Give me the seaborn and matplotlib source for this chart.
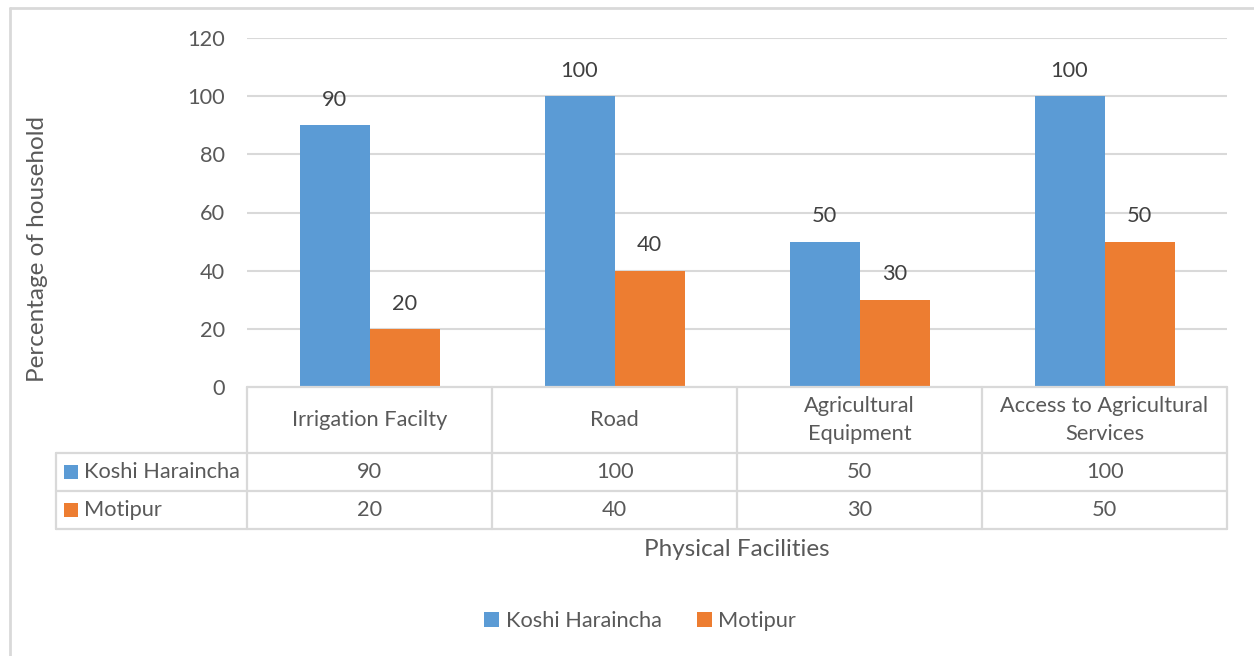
import matplotlib
matplotlib.use("Agg")
import matplotlib.pyplot as plt
from matplotlib.lines import Line2D
from matplotlib.patches import Rectangle
import seaborn as sns
import pandas as pd

# Survey results: share of households reporting access to each facility
facilities = ["Irrigation Facilty", "Road", "Agricultural Equipment",
              "Access to Agricultural Services"]
facility_labels = ["Irrigation Facilty", "Road", "Agricultural\nEquipment",
                   "Access to Agricultural\nServices"]
koshi_haraincha = [90, 100, 50, 100]
motipur = [20, 40, 30, 50]
series_names = ["Koshi Haraincha", "Motipur"]
y_ticks = [0, 20, 40, 60, 80, 100, 120]

BLUE = "#5B9BD5"
ORANGE = "#ED7D31"
GRID = "#D9D9D9"
TEXT = "#595959"
LABEL = "#404040"

W, H = 1254, 656
sns.set_theme(style="white")
plt.rcParams["font.family"] = ["Lato", "DejaVu Sans"]

df = pd.DataFrame({
    "Facility": facilities * 2,
    "Series": [series_names[0]] * 4 + [series_names[1]] * 4,
    "Value": koshi_haraincha + motipur,
})

fig = plt.figure(figsize=(W / 100, H / 100), dpi=100)


def fx(x):
    return x / W


def fy(y):
    return 1 - y / H


fs = 15.7
fs_title = 17.5

ax_l, ax_r, ax_t, ax_b = 247, 1227, 38, 387
ax = fig.add_axes([fx(ax_l), fy(ax_b), fx(ax_r) - fx(ax_l), fy(ax_t) - fy(ax_b)])

sns.barplot(data=df, x="Facility", y="Value", hue="Series",
            palette=[BLUE, ORANGE], width=140 / 245, gap=0,
            saturation=1, linewidth=0, ax=ax, legend=False, zorder=3)

ax.set_xlim(-0.5, len(facilities) - 0.5)
ax.set_ylim(0, 120)
ax.set_yticks(y_ticks)
ax.set_yticklabels([str(t) for t in y_ticks], fontsize=fs, color=TEXT)
ax.tick_params(axis="y", length=0, pad=16)
ax.set_xticks([])
ax.set_xlabel("")
ax.set_ylabel("")
for s in ax.spines.values():
    s.set_visible(False)
ax.grid(False)
for t in y_ticks[1:]:
    ax.axhline(t, color=GRID, lw=1.5, zorder=1)

# Value labels above the bars
for cont in ax.containers:
    ax.bar_label(cont, labels=[f"{v:g}" for v in cont.datavalues],
                 padding=11, fontsize=fs, color=LABEL)

# Outer chart frame
fig.add_artist(Line2D([fx(10), fx(10)], [fy(8), 0], color=GRID, lw=2))
fig.add_artist(Line2D([fx(10), 1], [fy(8), fy(8)], color=GRID, lw=2))

# Data table beneath the axis
col_x = [247, 492, 737, 982, 1227]
row_y = [387, 453, 491, 529]
lw = 1.6
for y in row_y:
    x0 = 247 if y == 387 else 56
    fig.add_artist(Line2D([fx(x0), fx(1227)], [fy(y), fy(y)], color=GRID, lw=lw))
for x in col_x:
    fig.add_artist(Line2D([fx(x), fx(x)], [fy(387), fy(529)], color=GRID, lw=lw))
fig.add_artist(Line2D([fx(56), fx(56)], [fy(453), fy(529)], color=GRID, lw=lw))

for i, lab in enumerate(facility_labels):
    cx = (col_x[i] + col_x[i + 1]) / 2
    fig.text(fx(cx), fy(420), lab, ha="center", va="center", fontsize=fs,
             color=TEXT, linespacing=1.45)

for r, (name, vals, col) in enumerate(zip(series_names, [koshi_haraincha, motipur],
                                          [BLUE, ORANGE])):
    cy = (row_y[r + 1] + row_y[r + 2]) / 2
    fig.add_artist(Rectangle((fx(64), fy(cy + 7)), fx(14), 14 / H,
                             facecolor=col, edgecolor="none"))
    fig.text(fx(84), fy(cy), name, ha="left", va="center", fontsize=fs, color=TEXT)
    for i, v in enumerate(vals):
        cx = (col_x[i] + col_x[i + 1]) / 2
        fig.text(fx(cx), fy(cy), f"{v}", ha="center", va="center", fontsize=fs,
                 color=TEXT)

fig.text(fx(737), fy(550), "Physical Facilities", ha="center", va="center",
         fontsize=fs_title, color=TEXT)
fig.text(fx(38), fy(249), "Percentage of household", ha="center", va="center",
         rotation=90, fontsize=fs_title, color=TEXT)

handles = [Rectangle((0, 0), 1, 1, facecolor=c, edgecolor="none")
           for c in (BLUE, ORANGE)]
fig.legend(handles, series_names, loc="center", ncol=2,
           bbox_to_anchor=(fx(640), fy(621)), frameon=False, fontsize=fs,
           labelcolor=TEXT, handlelength=0.7, handleheight=0.7,
           handletextpad=0.3, columnspacing=1.6)

fig.savefig("out.png", dpi=100, facecolor="white")
